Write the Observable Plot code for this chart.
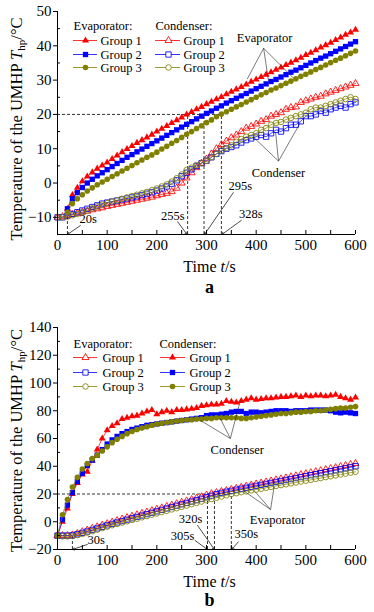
<!DOCTYPE html>
<html><head><meta charset="utf-8">
<script src="https://cdn.jsdelivr.net/npm/d3@7"></script>
<script src="https://cdn.jsdelivr.net/npm/@observablehq/plot@0.6"></script>
<style>html,body{margin:0;padding:0;background:#fff;} #chart svg{display:block;}</style>
</head><body><div id="chart"></div>
<script>
// ---------- data ----------
const times = [0,10,20,30,40,50,60,70,80,90,100,110,120,130,140,150,160,170,180,190,200,
  210,220,230,240,250,260,270,280,290,300,310,320,330,340,350,360,370,380,390,400,
  410,420,430,440,450,460,470,480,490,500,510,520,530,540,550,560,570,580,590,600];
const xTicks = [0,100,200,300,400,500,600];
const xMinor = [50,150,250,350,450,550];
const groups = ["Group 1","Group 2","Group 3"];
const colors = ["#ff0000","#0000ff","#808000"];
const symbols = ["triangle","square","circle"];

// Panel a: evaporator (filled) and condenser (hollow)
const aEvap1 = [null,null,-7.5,-3.5,-1.4,0.5,1.9,3.1,4.2,5.1,6,
 7,8,9,9.9,10.8,11.7,12.5,13.3,14.1,15,
 15.8,16.6,17.5,18.3,19.1,20,20.7,21.5,22.2,23,
 23.7,24.4,25.1,25.9,26.6,27.3,28,28.7,29.5,30.2,
 30.9,31.6,32.3,33,33.7,34.4,35.1,35.8,36.5,37.3,
 38,38.7,39.5,40.2,40.9,41.7,42.4,43.2,43.9,44.7];
const aEvap2 = [null,null,-7.5,-4.6,-2.8,-1.3,0,1.1,2.1,3,3.9,
 4.8,5.7,6.6,7.5,8.3,9.1,9.9,10.7,11.5,12.3,
 13.1,13.9,14.7,15.5,16.3,17.1,17.9,18.7,19.5,20.3,
 21,21.8,22.5,23.3,24,24.7,25.4,26.1,26.8,27.5,
 28.2,28.9,29.6,30.2,30.9,31.6,32.3,32.9,33.6,34.3,
 35,35.7,36.4,37,37.7,38.4,39.1,39.8,40.5,41.2];
const aEvap3 = [null,null,-8.5,-6,-4.6,-3.4,-2.3,-1.4,-0.5,0.3,1.1,
 1.9,2.7,3.5,4.3,5.1,5.9,6.7,7.5,8.2,9,
 9.9,10.7,11.6,12.4,13.3,14.2,15,15.9,16.7,17.6,
 18.4,19.3,20.1,20.8,21.5,22.2,22.9,23.6,24.3,25,
 25.7,26.4,27.1,27.7,28.4,29.1,29.7,30.4,31.1,31.7,
 32.4,33.1,33.7,34.4,35.1,35.8,36.4,37.1,37.8,38.5];
const aCond1 = [-10,-9.8,-9.5,-9.2,-8.8,-8.5,-8.2,-7.8,-7.5,-7.2,-6.8,
 -6.5,-6.2,-5.9,-5.6,-5.3,-5,-4.7,-4.4,-4.1,-3.7,
 -3.3,-3,-2.5,-1.5,0,1.5,3,4.5,5.8,7,
 8.5,10,11.2,12.2,13.2,14,15,16,16.5,17.2,
 18,18.5,19.5,20,20.5,21.5,22,22.2,23.5,24,
 24.5,25,25.3,26,26.5,27,27.5,28,28.5,29];
const aCond2 = [-10,-10,-9.5,-9,-8.5,-8,-7.5,-7,-6.5,-6,-5.7,
 -5.4,-5.1,-4.8,-4.5,-4.2,-3.9,-3.5,-3.1,-2.7,-2.2,
 -1.6,-1,-0.2,0.8,2,3,4,5,5.8,6.5,
 7.5,8.5,9.3,10,10.5,11,11.8,12.5,13,13.5,
 14,13.5,14.5,15.5,15,16,17,17,18,19.5,
 19.5,20,21,20.5,21.5,22,22.5,22,23,23.5];
const aCond3 = [-10,-10,-9.8,-9.4,-9,-8.5,-8,-7.4,-6.8,-6.3,-5.8,
 -5.4,-5,-4.6,-4.2,-3.8,-3.4,-3,-2.6,-2.1,-1.6,
 -1,-0.4,0.4,1.4,2.5,3.8,4.5,5.2,5.8,6.5,
 7.5,8.5,9.5,10.2,11,12,12.8,13.5,14,14.5,
 15.5,16,17,17.5,17.8,18.5,19,19.5,20,20.5,
 21.5,22,22,22.5,23,23.5,24,24.5,25,24.5];

// Panel b: evaporator (hollow) and condenser (filled)
const bEvap1 = [-10,-10,-10,-9.5,-8.5,-7.2,-6,-4.8,-3.6,-2.5,-1.4,
 -0.3,0.8,1.9,3,4,5,6,7,8,9,
 10,11,12,13,14,15,16,17,18,19.2,
 20.2,21,21.8,22.5,23.3,24,24.8,25.6,26.4,27.2,
 27.9,28.7,29.4,30.2,30.9,31.6,32.4,33.1,33.9,34.6,
 35.3,36.1,36.8,37.6,38.3,39,39.8,40.5,41.3,42];
const bEvap2 = [-10,-10,-10,-9.8,-9,-8,-7,-5.9,-4.8,-3.7,-2.6,
 -1.5,-0.5,0.5,1.5,2.5,3.5,4.5,5.5,6.5,7.5,
 8.6,9.6,10.6,11.6,12.6,13.6,14.6,15.6,16.6,17.7,
 18.8,19.9,20.8,21.6,22.3,23.1,23.8,24.5,25.2,25.9,
 26.6,27.3,28,28.7,29.4,30.1,30.8,31.5,32.2,32.9,
 33.6,34.3,35,35.7,36.4,37.1,37.8,38.5,39.2,40];
const bEvap3 = [-10,-10.5,-10.5,-10.3,-9.6,-8.8,-7.8,-6.8,-5.7,-4.6,-3.5,
 -2.5,-1.6,-0.6,0.3,1.3,2.2,3.2,4.1,5.1,6,
 7,7.9,8.9,9.8,10.8,11.7,12.7,13.6,14.6,15.5,
 16.4,17.3,18.2,19.1,20,20.6,21.3,21.9,22.6,23.2,
 23.8,24.5,25.1,25.8,26.4,27,27.7,28.3,29,29.6,
 30.2,30.9,31.5,32.2,32.8,33.4,34.1,34.7,35.4,36];
const bCond1 = [-10,0,9.5,20,28,34,36,44,52,60,66,
 69,71,74,75,76,76.5,78,79.5,80.5,77.5,
 79,80,79,80.5,80.5,81,81.5,82,83.5,84,
 84.5,84.5,85,87,86.5,86,87,88,89,88,
 88.5,89,89,89.5,90,90,90.5,91,90,91,
 90.5,91,91,90.5,91,91.5,90,89,88,89.5];
const bCond2 = [-10,1.5,12,21,29,35,40.5,44.5,48,52,56,
 59,61.5,63.5,65,66.5,67.5,68.5,69.5,70,70.5,
 71,71.5,72,72.5,73,73.5,74,74.5,75,76.5,
 77,77,77.5,78,79,79.5,79.5,78,79,79,
 78.5,79,79.5,80,80,80,79.5,80,80,80,
 80.5,80.5,80.5,80.5,80,79,78.5,79,78.5,78];
const bCond3 = [-10,5,16,25,32,38,42,45.5,48,51,54,
 57,59.5,61.5,63.5,65,66.5,67.5,68.5,69.5,70.5,
 71,71.5,72,72.5,73,73.5,73.5,74,74,74.5,
 74.5,75,75,75,75,75,74.5,74.5,75,75.5,
 76,76.5,77,77.5,78,78,78.5,79,79,79.5,
 79.5,80,80,80.5,81,81.5,82,82,82.5,83];

// annotations (data units)
const aMarks = [
 {label:"20s", tx:62, ty:-10.6, x1:46, y1:-12.4, x2:20, y2:-15},
 {label:"255s", tx:232, ty:-9.5, x1:242, y1:-11.3, x2:261, y2:-15},
 {label:"295s", tx:368, ty:-1, x1:354, y1:-2.8, x2:296, y2:-15},
 {label:"328s", tx:389, ty:-8.9, x1:370, y1:-10.9, x2:331, y2:-15}
];
const aCross = [262, 295, 330];
const bMarks = [
 {label:"30s", tx:78, ty:-12.8, x1:60, y1:-16.4, x2:30, y2:-20},
 {label:"305s", tx:252, ty:-10.6, x1:277, y1:-13.5, x2:302, y2:-20},
 {label:"320s", tx:268, ty:2.3, x1:282, y1:-2.7, x2:316, y2:-20},
 {label:"350s", tx:380, ty:-8.5, x1:364, y1:-14.5, x2:351, y2:-20}
];
const bCross = [302, 316, 350];
const aCallouts = [
 {label:"Evaporator", tx:417, ty:42.3, ax:415, ay:39.3, targets:[[382,30.3],[425,29.6],[475,30.6]]},
 {label:"Condenser", tx:445, ty:3.0, ax:445, ay:6.4, targets:[[395,13.3],[439,14.9],[489,17.6]]}
];
const bCallouts = [
 {label:"Condenser", tx:362, ty:51.5, ax:348, ay:60, targets:[[288,73],[328,74.3],[368,87.2]]},
 {label:"Evaporator", tx:443, ty:1.6, ax:429, ay:8.8, targets:[[374,22.5],[398,21.6],[436,25]]}
];
const xLabel = "Time t/s";
const yLabel = "Temperature of the UMHP Thp/°C";

// ---------- drawing ----------
const W = 374, H = 306, ML = 57, MR = 19;
const FONT = "'Liberation Serif', 'Times New Roman', serif";

function makePanel(cfg) {
  const fw = W - ML - MR, fh = H - cfg.mt - cfg.mb;
  const [y0, y1] = cfg.yDomain;
  const px2x = px => (px - ML) / fw * 600;
  const py2y = py => y1 - (py - cfg.mt) / fh * (y1 - y0);
  const dash = {strokeDasharray: "3,2", strokeWidth: 0.8, stroke: "#000"};
  const marks = [];
  marks.push(Plot.ruleY([20], {x1: 0, x2: cfg.cross[cfg.cross.length - 1], ...dash}));
  marks.push(Plot.ruleX(cfg.cross, {y1: y0, y2: 20, ...dash}));
  marks.push(Plot.ruleX([cfg.marks[0].x2], {y1: y0, y2: cfg.startTop, ...dash}));
  cfg.series.forEach(s => {
    const rows = times.map((t, i) => ({t, v: s.values[i]})).filter(d => d.v != null);
    marks.push(Plot.line(rows, {x: "t", y: "v", stroke: s.color, strokeWidth: 0.7}));
    marks.push(Plot.dot(rows, {x: "t", y: "v", symbol: s.symbol, r: s.r,
      fill: s.filled ? s.color : "none", stroke: s.filled ? "none" : s.color, strokeWidth: 0.85}));
  });
  // axes
  marks.push(Plot.ruleX([0], {stroke: "#000", strokeWidth: 1}));
  marks.push(Plot.ruleY([y0], {stroke: "#000", strokeWidth: 1}));
  marks.push(Plot.axisY({ticks: cfg.yTicks, tickSize: 4, tickPadding: 2, fontSize: 15, label: null}));
  marks.push(Plot.tickY(cfg.yMinor, {y: d => d, insetRight: fw - 3, strokeWidth: 1}));
  marks.push(Plot.axisX({ticks: xTicks, tickSize: 0, tickPadding: 5, fontSize: 15, label: null}));
  marks.push(Plot.tickX(xTicks.concat(xMinor), {x: d => d, insetTop: fh - 4, strokeWidth: 1}));
  // time annotations
  marks.push(Plot.arrow(cfg.marks, {x1: "x1", y1: "y1", x2: "x2", y2: "y2", stroke: "#000", strokeWidth: 0.7, headLength: 5}));
  marks.push(Plot.text(cfg.marks, {x: "tx", y: "ty", text: "label", fontSize: 12.5}));
  // callouts
  const links = cfg.callouts.flatMap(c => c.targets.map(([x, y]) => ({x1: c.ax, y1: c.ay, x2: x, y2: y})));
  marks.push(Plot.link(links, {x1: "x1", y1: "y1", x2: "x2", y2: "y2", stroke: "#222", strokeWidth: 0.6}));
  marks.push(Plot.text(cfg.callouts, {x: "tx", y: "ty", text: "label", fontSize: 12.5}));
  // legend
  const lg = cfg.legend;
  marks.push(Plot.text(lg.cols, {x: c => px2x(c.hx), y: () => py2y(lg.headerY), text: "header", textAnchor: "start", fontSize: 12.5}));
  lg.cols.forEach(c => {
    const rows = groups.map((g, i) => ({g, i, y: py2y(lg.rowY[i]), s: c.series[i]}));
    marks.push(Plot.ruleY(rows, {y: "y", x1: px2x(c.lx1), x2: px2x(c.lx2), stroke: d => d.s.color, strokeWidth: 0.8}));
    rows.forEach(r => {
      marks.push(Plot.dot([r], {x: () => px2x(c.mx), y: "y", symbol: r.s.symbol, r: r.s.r,
        fill: r.s.filled ? r.s.color : "white", stroke: r.s.filled ? "none" : r.s.color, strokeWidth: 0.85}));
    });
    marks.push(Plot.text(rows, {x: () => px2x(c.tx), y: "y", text: "g", textAnchor: "start", fontSize: 12.5}));
  });
  // axis labels & panel letter
  marks.push(Plot.text([xLabel], {frameAnchor: "bottom", textAnchor: "middle", lineAnchor: "middle", dy: 32, dx: 3, fontSize: 16}));
  marks.push(Plot.text([yLabel], {frameAnchor: "left", textAnchor: "middle", lineAnchor: "middle", dx: -41, dy: cfg.ylabDy, rotate: -90, fontSize: 16.5}));
  marks.push(Plot.text([cfg.letter], {frameAnchor: "bottom", textAnchor: "middle", lineAnchor: "middle", dy: cfg.letterDy, dx: 3, fontSize: 18, fontWeight: "bold"}));

  const svg = Plot.plot({
    width: W, height: H, marginLeft: ML, marginRight: MR, marginTop: cfg.mt, marginBottom: cfg.mb,
    style: {fontFamily: FONT, fontSize: "14px", color: "#000", background: "#fff"},
    x: {domain: [0, 600], label: null},
    y: {domain: cfg.yDomain, label: null},
    symbol: {type: "identity"},
    marks
  });
  const NS = "http://www.w3.org/2000/svg";
  const span = (parent, txt, attrs = {}) => {
    const t = document.createElementNS(NS, "tspan");
    for (const k in attrs) t.setAttribute(k, attrs[k]);
    t.textContent = txt; parent.appendChild(t);
  };
  svg.querySelectorAll("text").forEach(t => {
    if (t.textContent === xLabel) {
      t.textContent = "";
      span(t, "Time "); span(t, "t", {"font-style": "italic"}); span(t, "/s");
    } else if (t.textContent === yLabel) {
      t.textContent = "";
      span(t, "Temperature of the UMHP "); span(t, "T", {"font-style": "italic"});
      span(t, "hp", {"font-size": "11", dy: "3"}); span(t, "/°C", {dy: "-3"});
    }
  });
  return svg;
}

const mk = (vals, k, filled) => ({values: vals, color: colors[k], symbol: symbols[k], filled,
  r: [2.6, 3.0, 2.8][k]});

const aEvapS = [mk(aEvap1,0,true), mk(aEvap2,1,true), mk(aEvap3,2,true)];
const aCondS = [mk(aCond1,0,false), mk(aCond2,1,false), mk(aCond3,2,false)];
const bEvapS = [mk(bEvap1,0,false), mk(bEvap2,1,false), mk(bEvap3,2,false)];
const bCondS = [mk(bCond1,0,true), mk(bCond2,1,true), mk(bCond3,2,true)];

const svgA = makePanel({
  mt: 11, mb: 72, yDomain: [-15, 50], yTicks: [-10,0,10,20,30,40,50], yMinor: [-5,5,15,25,35,45],
  series: [...aCondS, ...aEvapS], cross: aCross, marks: aMarks, startTop: -9, callouts: aCallouts,
  ylabDy: 6, letter: "a", letterDy: 53,
  legend: {headerY: 25, rowY: [40, 54, 67], cols: [
    {header: "Evaporator:", hx: 73, lx1: 73, lx2: 97, mx: 85, tx: 100, series: aEvapS},
    {header: "Condenser:", hx: 155, lx1: 155, lx2: 180, mx: 168, tx: 183, series: aCondS}
  ]}
});
const svgB = makePanel({
  mt: 21, mb: 63, yDomain: [-20, 140], yTicks: [-20,0,20,40,60,80,100,120,140], yMinor: [-10,10,30,50,70,90,110,130],
  series: [...bEvapS, ...bCondS], cross: bCross, marks: bMarks, startTop: -10, callouts: bCallouts,
  ylabDy: 2, letter: "b", letterDy: 51,
  legend: {headerY: 37, rowY: [51, 66, 80], cols: [
    {header: "Evaporator:", hx: 73, lx1: 73, lx2: 97, mx: 85, tx: 102, series: bEvapS},
    {header: "Condenser:", hx: 159, lx1: 160, lx2: 185, mx: 172, tx: 189, series: bCondS}
  ]}
});
document.getElementById("chart").append(svgA, svgB);
</script>
</body></html>
